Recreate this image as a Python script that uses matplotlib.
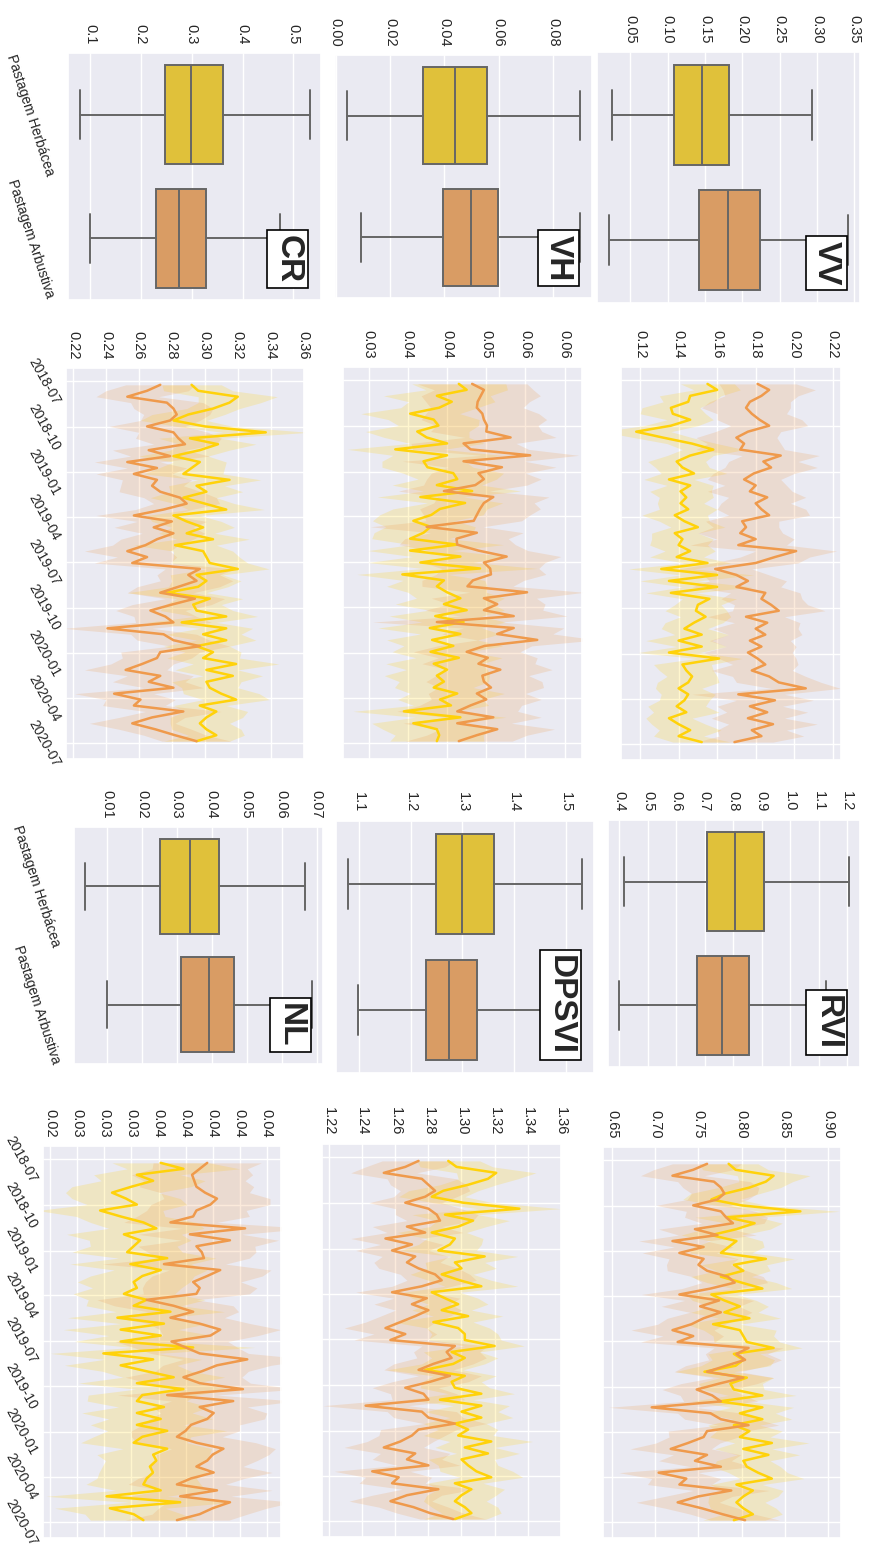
import numpy as np
import pandas as pd
import matplotlib
matplotlib.use('Agg')
import matplotlib.pyplot as plt
import matplotlib.dates as mdates
from matplotlib.ticker import MultipleLocator, FormatStrFormatter
import seaborn as sns

sns.set_theme(style='darkgrid')
plt.rcParams['font.family'] = ['Liberation Sans', 'DejaVu Sans']

classes = ['Pastagem Herbácea', 'Pastagem Arbustiva']
dates = pd.date_range('2018-07-08', periods=61, freq='12D')

# box stats: whislo, q1, median, q3, whishi
vv_box_herb = [0.0256, 0.1082, 0.1456, 0.1824, 0.2927]
vv_box_arb = [0.0216, 0.1424, 0.1811, 0.2233, 0.3416]
vh_box_herb = [0.0041, 0.0322, 0.0439, 0.0556, 0.0901]
vh_box_arb = [0.0092, 0.0395, 0.0498, 0.0597, 0.0898]
cr_box_herb = [0.0796, 0.2484, 0.2990, 0.3620, 0.5315]
cr_box_arb = [0.0993, 0.2307, 0.2747, 0.3280, 0.4730]
rvi_box_herb = [0.4164, 0.7080, 0.8075, 0.9080, 1.2056]
rvi_box_arb = [0.4000, 0.6717, 0.7607, 0.8567, 1.1270]
dpsvi_box_herb = [1.0775, 1.2479, 1.2994, 1.3617, 1.5322]
dpsvi_box_arb = [1.0981, 1.2299, 1.2736, 1.3283, 1.4900]
nl_box_herb = [0.0038, 0.0251, 0.0337, 0.0420, 0.0667]
nl_box_arb = [0.0100, 0.0313, 0.0392, 0.0464, 0.0686]

# time series means and CI half widths
vv_herb = [0.155,0.160,0.146,0.145,0.136,0.137,0.146,0.136,0.118,0.132,
           0.147,0.158,0.146,0.139,0.142,0.148,0.135,0.146,0.141,0.144,
           0.141,0.145,0.138,0.143,0.150,0.138,0.142,0.140,0.146,0.139,
           0.155,0.131,0.160,0.135,0.160,0.136,0.156,0.150,0.149,0.154,
           0.148,0.143,0.152,0.140,0.152,0.135,0.161,0.142,0.144,0.147,
           0.145,0.140,0.145,0.143,0.139,0.144,0.135,0.140,0.146,0.140,
           0.152]
vv_herb_ci = [0.014,0.012,0.016,0.013,0.015,0.017,0.012,0.014,0.018,0.015,
              0.013,0.016,0.012,0.015,0.014,0.017,0.013,0.012,0.016,0.014,
              0.012,0.015,0.017,0.013,0.014,0.012,0.016,0.015,0.013,0.014,
              0.012,0.017,0.019,0.015,0.018,0.013,0.014,0.012,0.016,0.013,
              0.015,0.012,0.014,0.017,0.013,0.016,0.012,0.015,0.014,0.013,
              0.016,0.012,0.014,0.013,0.015,0.017,0.012,0.014,0.016,0.013,
              0.015]
vv_arb = [0.181,0.187,0.183,0.177,0.175,0.178,0.182,0.187,0.176,0.170,
          0.174,0.172,0.193,0.184,0.188,0.179,0.174,0.180,0.177,0.186,
          0.180,0.183,0.187,0.173,0.175,0.172,0.180,0.171,0.201,0.190,
          0.180,0.159,0.170,0.176,0.170,0.185,0.183,0.188,0.192,0.175,
          0.186,0.180,0.185,0.177,0.183,0.176,0.181,0.185,0.178,0.187,
          0.192,0.206,0.171,0.190,0.177,0.186,0.176,0.189,0.178,0.183,
          0.169]
vv_arb_ci = [0.020,0.024,0.019,0.021,0.023,0.018,0.022,0.020,0.017,0.021,
             0.019,0.023,0.020,0.018,0.024,0.021,0.019,0.016,0.022,0.020,
             0.018,0.023,0.021,0.019,0.017,0.022,0.020,0.025,0.021,0.018,
             0.022,0.019,0.017,0.020,0.023,0.018,0.021,0.019,0.024,0.020,
             0.017,0.022,0.019,0.021,0.018,0.023,0.020,0.017,0.021,0.019,
             0.022,0.018,0.024,0.020,0.017,0.021,0.019,0.023,0.018,0.022,
             0.020]

vh_herb = [0.0465,0.0475,0.0437,0.0456,0.0440,0.0403,0.0433,0.0439,0.0412,0.0424,
           0.0450,0.0384,0.0450,0.0420,0.0425,0.0458,0.0463,0.0437,0.0482,0.0416,
           0.0473,0.0441,0.0430,0.0407,0.0429,0.0420,0.0403,0.0463,0.0403,0.0467,
           0.0416,0.0492,0.0393,0.0446,0.0437,0.0450,0.0467,0.0446,0.0475,0.0435,
           0.0471,0.0428,0.0467,0.0431,0.0458,0.0429,0.0465,0.0433,0.0450,0.0437,
           0.0446,0.0433,0.0463,0.0441,0.0455,0.0395,0.0467,0.0407,0.0437,0.0440,
           0.0437]
vh_herb_ci = [0.0060,0.0052,0.0068,0.0055,0.0049,0.0063,0.0058,0.0051,0.0066,0.0054,
              0.0047,0.0061,0.0069,0.0053,0.0058,0.0064,0.0050,0.0057,0.0062,0.0055,
              0.0048,0.0060,0.0066,0.0052,0.0057,0.0063,0.0049,0.0059,0.0054,0.0061,
              0.0067,0.0073,0.0058,0.0052,0.0064,0.0050,0.0056,0.0062,0.0048,0.0059,
              0.0053,0.0066,0.0051,0.0058,0.0063,0.0049,0.0055,0.0061,0.0052,0.0067,
              0.0057,0.0050,0.0060,0.0054,0.0048,0.0065,0.0058,0.0053,0.0069,0.0056,
              0.0060]
vh_arb = [0.0482,0.0497,0.0493,0.0489,0.0488,0.0495,0.0497,0.0501,0.0500,0.0531,
          0.0471,0.0480,0.0556,0.0471,0.0520,0.0490,0.0497,0.0486,0.0446,0.0509,
          0.0497,0.0492,0.0488,0.0484,0.0424,0.0488,0.0462,0.0463,0.0490,0.0526,
          0.0497,0.0505,0.0506,0.0483,0.0476,0.0552,0.0497,0.0514,0.0497,0.0535,
          0.0437,0.0535,0.0514,0.0565,0.0498,0.0475,0.0502,0.0490,0.0518,0.0495,
          0.0497,0.0506,0.0488,0.0500,0.0480,0.0463,0.0509,0.0463,0.0514,0.0488,
          0.0465]
vh_arb_ci = [0.0070,0.0063,0.0076,0.0066,0.0059,0.0072,0.0080,0.0065,0.0071,0.0058,
             0.0067,0.0074,0.0062,0.0078,0.0069,0.0060,0.0073,0.0066,0.0058,0.0071,
             0.0064,0.0077,0.0068,0.0061,0.0072,0.0059,0.0066,0.0074,0.0063,0.0069,
             0.0078,0.0062,0.0070,0.0065,0.0058,0.0073,0.0067,0.0061,0.0075,0.0068,
             0.0082,0.0064,0.0071,0.0076,0.0060,0.0068,0.0063,0.0072,0.0066,0.0059,
             0.0074,0.0067,0.0062,0.0070,0.0065,0.0077,0.0061,0.0069,0.0073,0.0064,
             0.0068]

cr_herb = [0.292,0.296,0.320,0.315,0.305,0.290,0.281,0.300,0.337,0.291,
           0.308,0.297,0.281,0.297,0.292,0.287,0.315,0.295,0.301,0.287,
           0.300,0.313,0.281,0.289,0.299,0.289,0.305,0.282,0.299,0.301,
           0.303,0.320,0.295,0.301,0.296,0.277,0.303,0.293,0.295,0.313,
           0.286,0.313,0.299,0.313,0.295,0.305,0.299,0.319,0.301,0.317,
           0.301,0.303,0.310,0.319,0.297,0.307,0.301,0.297,0.301,0.307,
           0.295]
cr_herb_ci = [0.018,0.021,0.024,0.019,0.016,0.022,0.020,0.017,0.026,0.019,
              0.023,0.018,0.021,0.016,0.020,0.024,0.019,0.017,0.022,0.020,
              0.018,0.023,0.016,0.021,0.019,0.017,0.022,0.025,0.018,0.020,
              0.023,0.019,0.016,0.021,0.018,0.024,0.020,0.017,0.022,0.019,
              0.021,0.016,0.023,0.018,0.020,0.017,0.022,0.026,0.019,0.018,
              0.021,0.017,0.023,0.020,0.016,0.019,0.022,0.018,0.021,0.017,
              0.020]
cr_arb = [0.273,0.265,0.253,0.277,0.281,0.283,0.279,0.265,0.281,0.284,
          0.288,0.266,0.279,0.253,0.271,0.257,0.271,0.268,0.273,0.285,
          0.289,0.275,0.257,0.280,0.269,0.281,0.271,0.264,0.253,0.265,
          0.256,0.297,0.290,0.295,0.284,0.273,0.294,0.280,0.267,0.276,
          0.281,0.241,0.275,0.281,0.297,0.273,0.271,0.262,0.252,0.273,
          0.266,0.281,0.245,0.261,0.257,0.287,0.268,0.256,0.270,0.282,
          0.295]
cr_arb_ci = [0.021,0.025,0.019,0.022,0.024,0.020,0.018,0.023,0.021,0.026,
             0.019,0.022,0.024,0.020,0.018,0.023,0.021,0.019,0.025,0.022,
             0.020,0.017,0.023,0.021,0.024,0.019,0.022,0.020,0.026,0.018,
             0.023,0.021,0.019,0.022,0.025,0.020,0.018,0.024,0.021,0.019,
             0.023,0.027,0.020,0.022,0.018,0.024,0.021,0.019,0.025,0.020,
             0.022,0.018,0.024,0.021,0.019,0.023,0.020,0.026,0.022,0.019,
             0.021]

rvi_herb = [0.785,0.793,0.837,0.828,0.809,0.781,0.765,0.800,0.868,0.783,
            0.815,0.794,0.765,0.794,0.785,0.776,0.828,0.791,0.802,0.776,
            0.800,0.824,0.765,0.780,0.798,0.780,0.809,0.767,0.798,0.802,
            0.806,0.837,0.791,0.802,0.793,0.757,0.806,0.787,0.791,0.824,
            0.774,0.824,0.798,0.824,0.791,0.809,0.798,0.835,0.802,0.831,
            0.802,0.806,0.819,0.835,0.794,0.813,0.802,0.794,0.802,0.813,
            0.791]
rvi_herb_ci = [0.034,0.038,0.042,0.031,0.036,0.040,0.033,0.029,0.045,0.037,
               0.032,0.039,0.035,0.030,0.041,0.036,0.033,0.038,0.031,0.035,
               0.040,0.034,0.029,0.037,0.033,0.039,0.036,0.031,0.042,0.035,
               0.038,0.033,0.030,0.036,0.040,0.034,0.031,0.037,0.035,0.039,
               0.032,0.036,0.041,0.034,0.030,0.038,0.035,0.043,0.033,0.036,
               0.031,0.039,0.034,0.037,0.030,0.035,0.040,0.033,0.038,0.034,
               0.036]
rvi_arb = [0.760,0.744,0.720,0.768,0.776,0.780,0.772,0.744,0.776,0.782,
           0.790,0.746,0.772,0.720,0.756,0.728,0.756,0.750,0.760,0.784,
           0.792,0.764,0.728,0.774,0.752,0.776,0.756,0.742,0.720,0.744,
           0.726,0.808,0.794,0.804,0.782,0.760,0.802,0.774,0.748,0.766,
           0.776,0.696,0.764,0.776,0.808,0.760,0.756,0.738,0.718,0.760,
           0.746,0.776,0.704,0.736,0.728,0.788,0.750,0.726,0.754,0.778,
           0.804]
rvi_arb_ci = [0.040,0.046,0.037,0.042,0.044,0.038,0.035,0.043,0.040,0.048,
              0.036,0.042,0.045,0.039,0.034,0.043,0.040,0.037,0.046,0.041,
              0.038,0.033,0.044,0.040,0.045,0.036,0.042,0.039,0.048,0.035,
              0.043,0.040,0.036,0.042,0.047,0.038,0.035,0.044,0.040,0.037,
              0.043,0.050,0.038,0.042,0.035,0.045,0.040,0.037,0.047,0.039,
              0.042,0.035,0.046,0.040,0.037,0.044,0.039,0.048,0.042,0.037,
              0.040]

dpsvi_herb = [1.292,1.297,1.321,1.316,1.304,1.289,1.282,1.301,1.335,1.290,
              1.307,1.298,1.282,1.296,1.293,1.286,1.314,1.296,1.300,1.288,
              1.299,1.312,1.282,1.290,1.298,1.288,1.304,1.283,1.298,1.302,
              1.302,1.320,1.294,1.302,1.295,1.278,1.302,1.294,1.296,1.312,
              1.287,1.312,1.300,1.312,1.296,1.304,1.298,1.318,1.302,1.316,
              1.300,1.304,1.309,1.318,1.296,1.306,1.300,1.296,1.302,1.306,
              1.296]
dpsvi_herb_ci = [0.019,0.022,0.024,0.018,0.017,0.021,0.020,0.018,0.025,0.020,
                 0.022,0.017,0.021,0.017,0.019,0.023,0.020,0.018,0.021,0.019,
                 0.019,0.022,0.017,0.020,0.018,0.018,0.021,0.024,0.019,0.020,
                 0.022,0.018,0.017,0.020,0.019,0.023,0.019,0.018,0.021,0.020,
                 0.020,0.017,0.022,0.019,0.019,0.018,0.021,0.025,0.018,0.019,
                 0.020,0.018,0.022,0.019,0.017,0.020,0.021,0.019,0.020,0.018,
                 0.019]
dpsvi_arb = [1.274,1.266,1.253,1.276,1.280,1.284,1.278,1.266,1.280,1.285,
             1.287,1.267,1.278,1.254,1.270,1.258,1.272,1.267,1.274,1.284,
             1.288,1.276,1.258,1.279,1.270,1.280,1.272,1.263,1.254,1.266,
             1.257,1.296,1.291,1.294,1.283,1.274,1.293,1.281,1.266,1.277,
             1.280,1.242,1.276,1.280,1.296,1.274,1.270,1.263,1.253,1.272,
             1.267,1.280,1.246,1.262,1.258,1.286,1.267,1.257,1.271,1.281,
             1.295]
dpsvi_arb_ci = [0.022,0.024,0.020,0.021,0.023,0.021,0.019,0.022,0.020,0.025,
                0.020,0.021,0.023,0.021,0.019,0.022,0.020,0.020,0.024,0.021,
                0.021,0.018,0.022,0.020,0.023,0.020,0.021,0.021,0.025,0.019,
                0.022,0.020,0.020,0.021,0.024,0.021,0.019,0.023,0.020,0.020,
                0.022,0.026,0.021,0.021,0.019,0.023,0.020,0.020,0.024,0.021,
                0.021,0.019,0.023,0.020,0.020,0.022,0.021,0.025,0.021,0.020,
                0.020]

nl_herb = [0.0352,0.0373,0.0330,0.0345,0.0325,0.0307,0.0320,0.0330,0.0296,0.0315,
           0.0336,0.0348,0.0318,0.0333,0.0327,0.0321,0.0358,0.0324,0.0352,0.0335,
           0.0327,0.0330,0.0318,0.0339,0.0327,0.0361,0.0312,0.0355,0.0315,0.0352,
           0.0315,0.0382,0.0299,0.0345,0.0315,0.0339,0.0364,0.0330,0.0373,0.0335,
           0.0330,0.0355,0.0330,0.0352,0.0330,0.0358,0.0335,0.0327,0.0358,0.0345,
           0.0348,0.0342,0.0345,0.0339,0.0336,0.0352,0.0302,0.0370,0.0305,0.0327,
           0.0336]
nl_herb_ci = [0.0045,0.0052,0.0040,0.0048,0.0055,0.0043,0.0050,0.0046,0.0058,0.0041,
              0.0049,0.0044,0.0053,0.0047,0.0040,0.0051,0.0045,0.0056,0.0043,0.0048,
              0.0052,0.0041,0.0047,0.0054,0.0044,0.0050,0.0046,0.0040,0.0053,0.0048,
              0.0043,0.0057,0.0049,0.0045,0.0052,0.0041,0.0047,0.0054,0.0044,0.0050,
              0.0046,0.0042,0.0051,0.0048,0.0043,0.0055,0.0045,0.0049,0.0041,0.0052,
              0.0047,0.0044,0.0050,0.0046,0.0053,0.0042,0.0056,0.0048,0.0051,0.0045,
              0.0049]
nl_arb = [0.0395,0.0388,0.0381,0.0383,0.0385,0.0393,0.0404,0.0398,0.0385,0.0382,
          0.0361,0.0430,0.0379,0.0416,0.0385,0.0390,0.0392,0.0355,0.0407,0.0395,
          0.0382,0.0388,0.0385,0.0339,0.0364,0.0382,0.0361,0.0388,0.0407,0.0398,
          0.0362,0.0375,0.0388,0.0432,0.0404,0.0390,0.0373,0.0388,0.0428,0.0358,
          0.0419,0.0388,0.0401,0.0395,0.0380,0.0375,0.0367,0.0385,0.0410,0.0400,
          0.0395,0.0385,0.0401,0.0380,0.0367,0.0404,0.0370,0.0416,0.0400,0.0388,
          0.0367]
nl_arb_ci = [0.0050,0.0044,0.0056,0.0047,0.0053,0.0041,0.0049,0.0055,0.0046,0.0052,
             0.0043,0.0058,0.0048,0.0045,0.0054,0.0050,0.0042,0.0057,0.0047,0.0051,
             0.0044,0.0053,0.0049,0.0046,0.0055,0.0042,0.0050,0.0047,0.0056,0.0044,
             0.0052,0.0048,0.0045,0.0059,0.0050,0.0043,0.0054,0.0047,0.0051,0.0046,
             0.0057,0.0044,0.0049,0.0053,0.0045,0.0050,0.0042,0.0055,0.0048,0.0052,
             0.0046,0.0043,0.0054,0.0049,0.0045,0.0051,0.0047,0.0058,0.0050,0.0044,
             0.0048]

# value-axis ticks of the time series panels
vv_ts_ticks = [0.12, 0.14, 0.16, 0.18, 0.20, 0.22]
vv_ts_labels = ['0.12', '0.14', '0.16', '0.18', '0.20', '0.22']
vh_ts_ticks = [0.035, 0.040, 0.045, 0.050, 0.055, 0.060]
vh_ts_labels = ['0.03', '0.04', '0.04', '0.05', '0.06', '0.06']
cr_ts_ticks = [0.22, 0.24, 0.26, 0.28, 0.30, 0.32, 0.34, 0.36]
cr_ts_labels = ['0.22', '0.24', '0.26', '0.28', '0.30', '0.32', '0.34', '0.36']
rvi_ts_ticks = [0.65, 0.70, 0.75, 0.80, 0.85, 0.90]
rvi_ts_labels = ['0.65', '0.70', '0.75', '0.80', '0.85', '0.90']
dpsvi_ts_ticks = [1.22, 1.24, 1.26, 1.28, 1.30, 1.32, 1.34, 1.36]
dpsvi_ts_labels = ['1.22', '1.24', '1.26', '1.28', '1.30', '1.32', '1.34', '1.36']
nl_ts_ticks = [0.025, 0.0275, 0.030, 0.0325, 0.035, 0.0375, 0.040, 0.0425, 0.045]
nl_ts_labels = ['0.02', '0.03', '0.03', '0.03', '0.04', '0.04', '0.04', '0.04', '0.04']

box_fill = ['#E0C13A', '#D99C64']
line_col = ['#FFD20A', '#EF9A4C']
edge = '#666666'
W, H = 869, 1546

fig = plt.figure(figsize=(W / 100, H / 100), dpi=100)


def rect(x0, x1, y0, y1):
    return [x0 / W, 1 - y1 / H, (x1 - x0) / W, (y1 - y0) / H]


def add_label(ax, name):
    ax.text(0.93, 0.07, name, transform=ax.transAxes, rotation=-90,
            ha='right', va='bottom', fontsize=24, fontweight='bold',
            bbox=dict(boxstyle='square,pad=0.15', fc='white', ec='black', lw=1.2),
            zorder=10)


def box_panel(r, herb, arb, name, step, fmt, show_cats):
    ax = fig.add_axes(rect(*r))
    stats = []
    for s in [herb, arb]:
        stats.append(dict(whislo=s[0], q1=s[1], med=s[2], q3=s[3], whishi=s[4]))
    line = dict(color=edge, linewidth=1.4)
    bp = ax.bxp(stats, positions=[0, 1], widths=0.8, capwidths=0.4,
                orientation='horizontal', patch_artist=True, showfliers=False,
                manage_ticks=False,
                boxprops=dict(edgecolor=edge, linewidth=1.4),
                medianprops=line, whiskerprops=line, capprops=line)
    for p, c in zip(bp['boxes'], box_fill):
        p.set_facecolor(c)
    ax.set_ylim(1.5, -0.5)
    ax.set_yticks([0, 1])
    ax.yaxis.grid(False)
    ax.xaxis.tick_top()
    ax.xaxis.set_major_locator(MultipleLocator(step))
    ax.xaxis.set_major_formatter(FormatStrFormatter(fmt))
    ax.tick_params(axis='x', labelrotation=-90, pad=6, length=0, labelsize=10.5)
    if show_cats:
        ax.set_yticklabels(classes)
        ax.tick_params(axis='y', length=0, pad=8, labelsize=10)
        plt.setp(ax.get_yticklabels(), rotation=-72, ha='right', va='center')
    else:
        ax.set_yticklabels([])
        ax.tick_params(axis='y', length=0)
    add_label(ax, name)
    return ax


def ts_panel(r, herb, herb_ci, arb, arb_ci, xlim, ticks, labels, show_dates):
    ax = fig.add_axes(rect(*r))
    for m, c, col in [(herb, herb_ci, line_col[0]), (arb, arb_ci, line_col[1])]:
        m = np.array(m)
        c = np.array(c)
        ax.plot(m, dates, color=col, lw=1.8)
        ax.fill_betweenx(dates, m - c, m + c, color=col, alpha=0.2, lw=0)
    ax.set_xlim(xlim)
    ax.set_xticks(ticks, labels)
    ax.xaxis.tick_top()
    ax.tick_params(axis='x', labelrotation=-90, pad=6, length=0, labelsize=10.5)
    ax.set_ylim(pd.Timestamp('2020-08-02'), pd.Timestamp('2018-06-04'))
    ax.yaxis.set_major_locator(mdates.MonthLocator(bymonth=[1, 4, 7, 10]))
    ax.yaxis.set_major_formatter(mdates.DateFormatter('%Y-%m'))
    if show_dates:
        ax.tick_params(axis='y', length=0, pad=2.5, labelsize=10)
        plt.setp(ax.get_yticklabels(), rotation=-61, ha='right', va='center')
    else:
        ax.tick_params(axis='y', length=0, labelleft=False)
    return ax


# right column (VV, RVI)
box_panel((597, 860, 52, 303), vv_box_herb, vv_box_arb, 'VV', 0.05, '%.2f', False)
ts_panel((621, 841, 367, 760), vv_herb, vv_herb_ci, vv_arb, vv_arb_ci,
         (0.1101, 0.2243), vv_ts_ticks, vv_ts_labels, False)
box_panel((608, 860, 820, 1067), rvi_box_herb, rvi_box_arb, 'RVI', 0.1, '%.1f', False)
ts_panel((603, 841, 1147, 1538), rvi_herb, rvi_herb_ci, rvi_arb, rvi_arb_ci,
         (0.6396, 0.9150), rvi_ts_ticks, rvi_ts_labels, False)

# middle column (VH, DPSVI)
box_panel((335, 592, 55, 298), vh_box_herb, vh_box_arb, 'VH', 0.02, '%.2f', False)
ts_panel((343, 582, 367, 759), vh_herb, vh_herb_ci, vh_arb, vh_arb_ci,
         (0.03173, 0.06221), vh_ts_ticks, vh_ts_labels, False)
box_panel((336, 594, 821, 1073), dpsvi_box_herb, dpsvi_box_arb, 'DPSVI', 0.1, '%.1f', False)
ts_panel((322, 561, 1144, 1537), dpsvi_herb, dpsvi_herb_ci, dpsvi_arb, dpsvi_arb_ci,
         (1.2156, 1.3602), dpsvi_ts_ticks, dpsvi_ts_labels, False)

# left column (CR, NL)
box_panel((68, 321, 53, 300), cr_box_herb, cr_box_arb, 'CR', 0.1, '%.1f', True)
ts_panel((66, 304, 368, 759), cr_herb, cr_herb_ci, cr_arb, cr_arb_ci,
         (0.2158, 0.3602), cr_ts_ticks, cr_ts_labels, True)
box_panel((74, 323, 827, 1064), nl_box_herb, nl_box_arb, 'NL', 0.01, '%.2f', True)
ts_panel((43, 281, 1146, 1538), nl_herb, nl_herb_ci, nl_arb, nl_arb_ci,
         (0.02432, 0.04632), nl_ts_ticks, nl_ts_labels, True)

fig.savefig('out.png', dpi=100)
